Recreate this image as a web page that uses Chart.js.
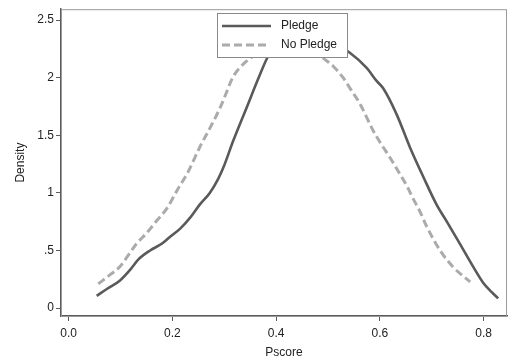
<!DOCTYPE html>
<html>
<head>
<meta charset="utf-8">
<script src="https://cdn.jsdelivr.net/npm/chart.js@4/dist/chart.umd.min.js"></script>
<style>
  html, body { margin: 0; padding: 0; background: #fff; }
  #wrap { width: 512px; height: 361px; }
</style>
</head>
<body>
<div id="wrap"><canvas id="c" width="512" height="361"></canvas></div>
<script>
const seriesNames = ["Pledge", "No Pledge"];

const pledgeX = [0.054, 0.075, 0.099, 0.12, 0.134, 0.157, 0.18, 0.195, 0.215, 0.235, 0.253, 0.272, 0.288, 0.30, 0.317, 0.343, 0.369, 0.385, 0.41, 0.44, 0.47, 0.50, 0.525, 0.542, 0.574, 0.594, 0.606, 0.632, 0.658, 0.684, 0.709, 0.729, 0.754, 0.780, 0.799, 0.815, 0.828];
const pledgeY = [0.106, 0.17, 0.24, 0.34, 0.42, 0.50, 0.56, 0.617, 0.69, 0.79, 0.90, 1.00, 1.12, 1.24, 1.45, 1.74, 2.03, 2.19, 2.30, 2.35, 2.35, 2.31, 2.26, 2.217, 2.087, 1.97, 1.91, 1.684, 1.395, 1.136, 0.90, 0.75, 0.56, 0.357, 0.22, 0.14, 0.084];

const noPledgeX = [0.057, 0.08, 0.099, 0.115, 0.131, 0.15, 0.17, 0.19, 0.21, 0.23, 0.253, 0.272, 0.292, 0.304, 0.316, 0.337, 0.36, 0.39, 0.42, 0.45, 0.47, 0.491, 0.51, 0.529, 0.545, 0.562, 0.587, 0.603, 0.619, 0.639, 0.652, 0.664, 0.677, 0.69, 0.716, 0.741, 0.774];
const noPledgeY = [0.21, 0.29, 0.36, 0.46, 0.56, 0.65, 0.76, 0.87, 1.03, 1.18, 1.40, 1.56, 1.74, 1.87, 2.0, 2.12, 2.20, 2.28, 2.33, 2.33, 2.26, 2.17, 2.10, 2.0, 1.89, 1.77, 1.54, 1.42, 1.31, 1.16, 1.06, 0.95, 0.84, 0.71, 0.50, 0.357, 0.227];

const xTickValues = [0.0, 0.2, 0.4, 0.6, 0.8];
const xTickLabels = ["0.0", "0.2", "0.4", "0.6", "0.8"];
const yTickValues = [0, 0.5, 1, 1.5, 2, 2.5];
const yTickLabels = ["0", ".5", "1", "1.5", "2", "2.5"];

const toPoints = (xs, ys) => xs.map((x, i) => ({ x: x, y: ys[i] }));

const FONT = "'Liberation Sans', Arial, sans-serif";
const AXIS_COLOR = '#5c5c5c';

const framePlugin = {
  id: 'frame',
  beforeDatasetsDraw(chart) {
    const { ctx, chartArea: a } = chart;
    ctx.save();
    ctx.strokeStyle = '#9a9a9a';
    ctx.lineWidth = 1;
    ctx.strokeRect(a.left + 0.5, a.top + 0.5, a.right - a.left - 1, a.bottom - a.top);
    ctx.restore();
  }
};

const legendPlugin = {
  id: 'boxLegend',
  afterDatasetsDraw(chart) {
    const { ctx } = chart;
    const x0 = 217, y0 = 13, w = 130, h = 44;
    ctx.save();
    ctx.fillStyle = '#ffffff';
    ctx.fillRect(x0, y0, w, h);
    ctx.strokeStyle = '#8a8a8a';
    ctx.lineWidth = 1;
    ctx.strokeRect(x0 + 0.5, y0 + 0.5, w, h);
    const rows = [26, 45];
    chart.data.datasets.forEach((ds, i) => {
      const y = rows[i];
      ctx.beginPath();
      ctx.strokeStyle = ds.borderColor;
      ctx.lineWidth = ds.borderWidth;
      ctx.setLineDash(ds.borderDash || []);
      ctx.moveTo(222, y);
      ctx.lineTo(i === 0 ? 271 : 267, y);
      ctx.stroke();
      ctx.setLineDash([]);
      ctx.fillStyle = '#222';
      ctx.font = '12px ' + FONT;
      ctx.textBaseline = 'middle';
      ctx.textAlign = 'left';
      ctx.fillText(ds.label, 281, y);
    });
    ctx.restore();
  }
};

new Chart(document.getElementById('c'), {
  type: 'line',
  data: {
    datasets: [
      {
        label: seriesNames[0],
        data: toPoints(pledgeX, pledgeY),
        borderColor: '#5a5a5a',
        borderWidth: 2.6,
        pointRadius: 0,
        tension: 0.4,
        cubicInterpolationMode: 'monotone',
        fill: false
      },
      {
        label: seriesNames[1],
        data: toPoints(noPledgeX, noPledgeY),
        borderColor: '#ababab',
        borderWidth: 3,
        borderDash: [8, 4],
        pointRadius: 0,
        tension: 0.4,
        cubicInterpolationMode: 'monotone',
        fill: false
      }
    ]
  },
  options: {
    responsive: false,
    animation: false,
    devicePixelRatio: 1,
    layout: { padding: { left: 0, right: 5, top: 8, bottom: 0 } },
    plugins: {
      legend: { display: false },
      tooltip: { enabled: false }
    },
    scales: {
      x: {
        type: 'linear',
        min: -0.0148,
        max: 0.845,
        afterBuildTicks: s => { s.ticks = xTickValues.map(v => ({ value: v })); },
        afterFit: s => { s.height = 45; },
        ticks: {
          callback: v => { const i = xTickValues.findIndex(t => Math.abs(t - v) < 1e-9); return i >= 0 ? xTickLabels[i] : ''; },
          font: { family: FONT, size: 12 },
          color: '#222',
          padding: 5,
          maxRotation: 0
        },
        grid: { drawOnChartArea: false, drawTicks: true, tickLength: 5, color: AXIS_COLOR, lineWidth: 1 },
        border: { display: true, color: AXIS_COLOR, width: 1.5 },
        title: { display: true, text: 'Pscore', font: { family: FONT, size: 12 }, color: '#222', padding: { top: 0, bottom: 1 } }
      },
      y: {
        type: 'linear',
        min: -0.069,
        max: 2.595,
        afterBuildTicks: s => { s.ticks = yTickValues.map(v => ({ value: v })); },
        afterFit: s => { s.width = 61; },
        ticks: {
          callback: v => { const i = yTickValues.findIndex(t => Math.abs(t - v) < 1e-9); return i >= 0 ? yTickLabels[i] : ''; },
          font: { family: FONT, size: 12 },
          color: '#222',
          padding: 2
        },
        grid: { drawOnChartArea: false, drawTicks: true, tickLength: 5, color: AXIS_COLOR, lineWidth: 1 },
        border: { display: true, color: AXIS_COLOR, width: 1.5 },
        title: { display: true, text: 'Density', font: { family: FONT, size: 12 }, color: '#222', padding: { top: 13, bottom: 0 } }
      }
    }
  },
  plugins: [framePlugin, legendPlugin]
});
</script>
</body>
</html>
